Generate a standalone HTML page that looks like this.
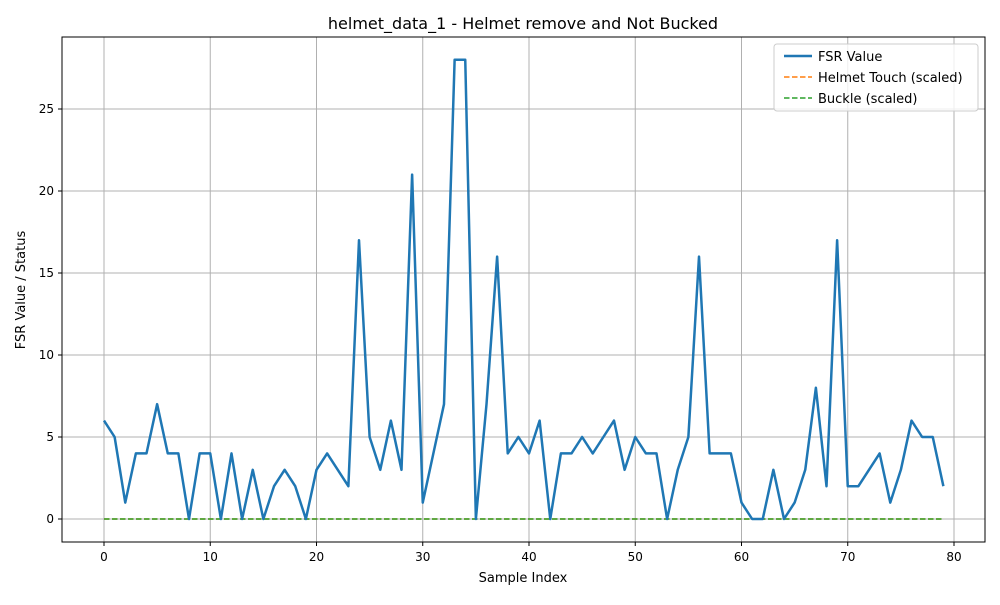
<!DOCTYPE html>
<html><head><meta charset="utf-8"><style>
body{margin:0;background:#fff;font-family:"Liberation Sans","DejaVu Sans",sans-serif}
svg text{font-family:"DejaVu Sans","Liberation Sans",sans-serif;fill:#000}
</style></head><body>
<svg id="chart" width="1000" height="600" viewBox="0 0 1000 600" xmlns="http://www.w3.org/2000/svg">
<rect width="1000" height="600" fill="#fff"/>
<text x="523" y="29" font-size="16" text-anchor="middle">helmet_data_1 - Helmet remove and Not Bucked</text>
<g id="grid"></g>
<g id="series"></g>
<rect x="62" y="37" width="923" height="505" fill="none" stroke="#000" stroke-width="1"/>
<g id="ticks"></g>
<text x="523" y="582" font-size="13" text-anchor="middle">Sample Index</text>
<text transform="translate(25,290) rotate(-90)" font-size="13" text-anchor="middle">FSR Value / Status</text>
<g>
<rect x="774" y="44" width="204" height="67" fill="#fff" fill-opacity="0.8" stroke="#ccc" rx="3"/>
<line x1="784" y1="56" x2="812" y2="56" stroke="#1f77b4" stroke-width="2.5"/>
<text x="818" y="61" font-size="13">FSR Value</text>
<line x1="784" y1="77" x2="812" y2="77" stroke="#ff7f0e" stroke-width="1.5" stroke-dasharray="5.5,2.5"/>
<text x="818" y="82" font-size="13">Helmet Touch (scaled)</text>
<line x1="784" y1="98" x2="812" y2="98" stroke="#2ca02c" stroke-width="1.5" stroke-dasharray="5.5,2.5"/>
<text x="818" y="103" font-size="13">Buckle (scaled)</text>
</g>
</svg>
<script>
const fsrValues=[6,5,1,4,4,7,4,4,0,4,4,0,4,0,3,0,2,3,2,0,3,4,3,2,17,5,3,6,3,21,1,4,7,28,28,0,7,16,4,5,4,6,0,4,4,5,4,5,6,3,5,4,4,0,3,5,16,4,4,4,1,0,0,3,0,1,3,8,2,17,2,2,3,4,1,3,6,5,5,2];
const helmetTouch=fsrValues.map(()=>0);
const buckle=fsrValues.map(()=>0);
const xTicks=[0,10,20,30,40,50,60,70,80];
const yTicks=[0,5,10,15,20,25];
const NS="http://www.w3.org/2000/svg";
const X=v=>104+v*10.625;
const Y=v=>519-v*16.4;
const grid=document.getElementById('grid'),ticks=document.getElementById('ticks'),series=document.getElementById('series');
function mk(tag,attrs,parent){const e=document.createElementNS(NS,tag);for(const k in attrs)e.setAttribute(k,attrs[k]);parent.appendChild(e);return e;}
xTicks.forEach(t=>{
 const g=mk('line',{x1:X(t),x2:X(t),y1:37,y2:542,stroke:'#b0b0b0','stroke-width':1},grid);
 
 
 mk('line',{x1:X(t),x2:X(t),y1:542,y2:546,stroke:'#000'},ticks);
 const tx=mk('text',{x:X(t),y:561,'font-size':12,'text-anchor':'middle'},ticks);
 tx.textContent=t;
 
 
});
yTicks.forEach(t=>{
 const g=mk('line',{x1:62,x2:985,y1:Y(t),y2:Y(t),stroke:'#b0b0b0','stroke-width':1},grid);
 
 
 mk('line',{x1:58,x2:62,y1:Y(t),y2:Y(t),stroke:'#000'},ticks);
 const tx=mk('text',{x:54,y:Y(t)+4,'font-size':12,'text-anchor':'end'},ticks);
 tx.textContent=t;
 
 
});
const pts=a=>a.map((v,i)=>X(i)+','+Y(v)).join(' ');
const h=mk('polyline',{points:pts(helmetTouch),fill:'none',stroke:'#ff7f0e','stroke-width':1.5,'stroke-dasharray':'5.5,2.5'},series);


const b=mk('polyline',{points:pts(buckle),fill:'none',stroke:'#2ca02c','stroke-width':1.5,'stroke-dasharray':'5.5,2.5'},series);


const f=mk('polyline',{points:pts(fsrValues),fill:'none',stroke:'#1f77b4','stroke-width':2.5,'stroke-linejoin':'round'},series);


</script>
</body></html>
